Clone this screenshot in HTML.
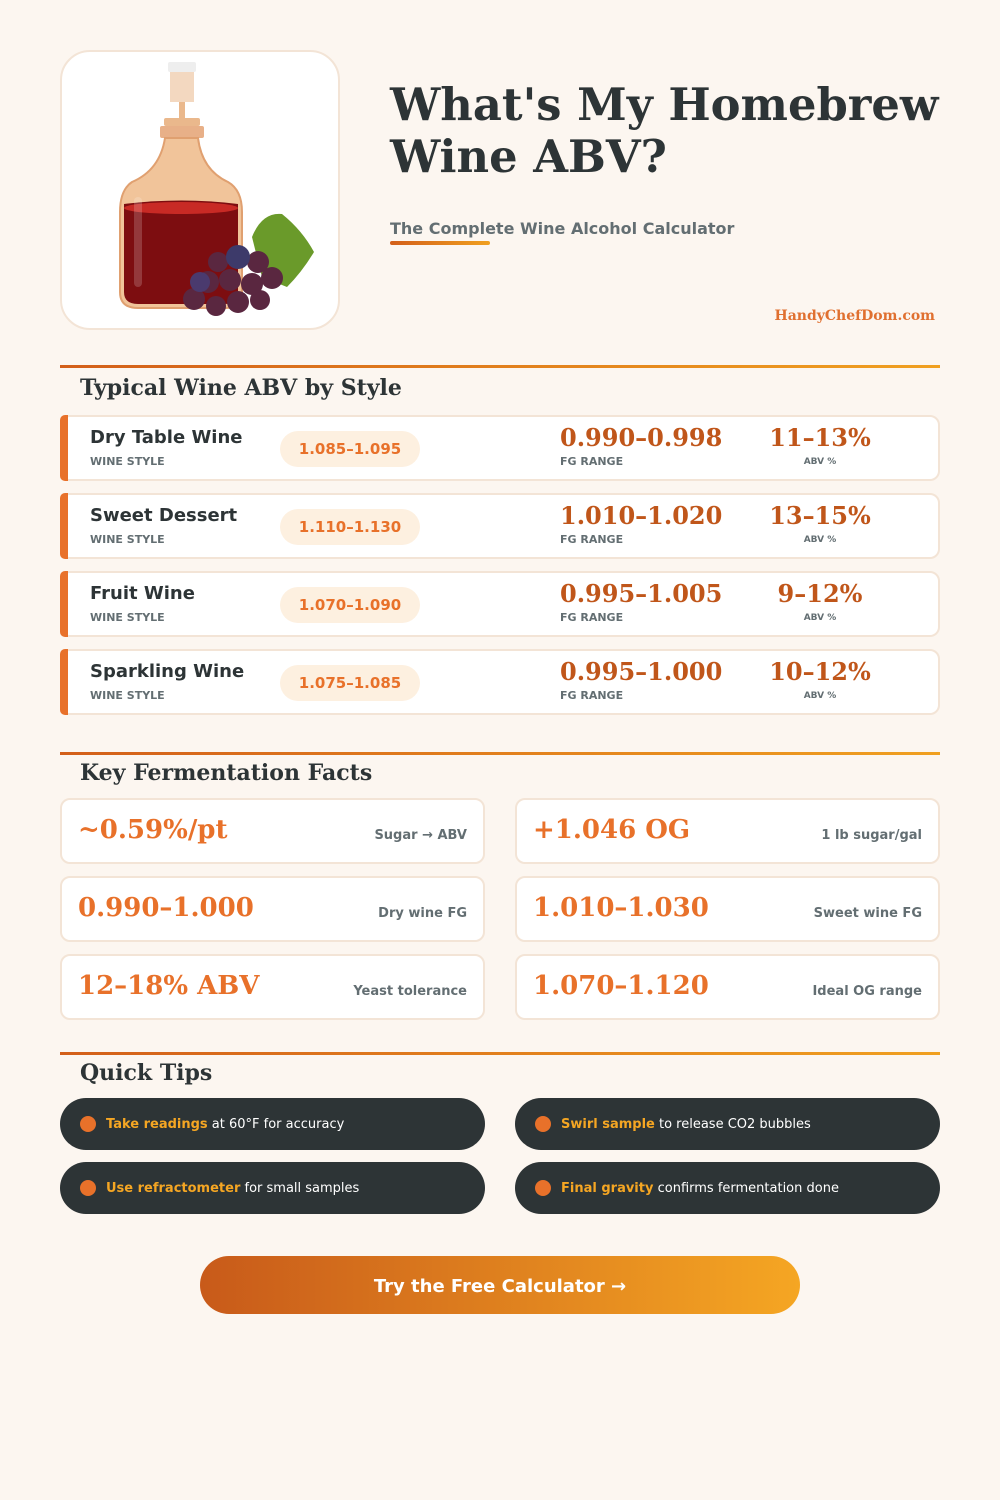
<!DOCTYPE html>
<html><head><meta charset="utf-8"><style>
*{margin:0;padding:0;box-sizing:border-box}
body{width:1000px;height:1500px;background:#fcf6f0;position:relative;font-family:"DejaVu Sans","Liberation Sans",sans-serif;color:#2d3436;overflow:hidden}
.abs{position:absolute}
.serif{font-family:"DejaVu Serif","Liberation Serif",serif;font-weight:bold}
.card{position:absolute;background:#fff;border:2px solid #f3e4d6;border-radius:10px}
.line{position:absolute;left:60px;width:880px;height:3px;background:linear-gradient(90deg,#d35f1a,#f0a020)}
.h2{position:absolute;left:80px;font-size:22px;color:#2d3436}
.accent{position:absolute;left:-2px;top:-2px;bottom:-2px;width:8px;background:#e8712a;border-radius:5px 0 0 5px}
.name{position:absolute;left:28px;top:10px;font-size:18px;font-weight:bold}
.lbl{position:absolute;font-size:11px;font-weight:bold;color:#636e72}
.pill{position:absolute;left:218px;top:14px;width:140px;height:36px;border-radius:18px;background:#fdf0e0;color:#e8712a;font-weight:bold;font-size:15px;text-align:center;line-height:36px}
.fg{position:absolute;left:498px;top:6px;font-size:24px;color:#c0561a}
.abv{position:absolute;left:688px;width:140px;text-align:center;top:6px;font-size:24px;color:#c0561a}
.big{position:absolute;left:16px;top:15px;font-size:26px;color:#e8712a}
.fl{position:absolute;right:16px;top:28px;font-size:13px;font-weight:bold;color:#636e72}
.tip{position:absolute;width:425px;height:52px;border-radius:26px;background:#2d3436;color:#fff;font-size:13px;line-height:54px;padding-left:46px}
.tip:before{content:"";position:absolute;left:20px;top:18px;width:16px;height:16px;border-radius:50%;background:#e8712a}
.tip b{color:#f5a623}
</style></head><body>
<div class="abs" style="left:60px;top:50px;width:280px;height:280px;background:#fff;border:2px solid #f3e4d6;border-radius:30px">
<svg width="276" height="276" viewBox="0 0 276 276">
<rect x="106" y="10" width="28" height="10" rx="2" fill="#eee"/>
<rect x="108" y="20" width="24" height="30" fill="#f3d8c0"/>
<rect x="117" y="50" width="6" height="20" fill="#eab88c"/>
<rect x="102" y="66" width="36" height="8" rx="2" fill="#eab88c"/>
<rect x="98" y="74" width="44" height="12" rx="2" fill="#e8b088"/>
<path d="M103 86 Q98 118 70 130 Q58 138 58 160 L58 240 Q58 256 76 256 L164 256 Q180 256 180 240 L180 160 Q180 138 166 130 Q140 118 136 86 Z" fill="#f1c49a" stroke="#e0a070" stroke-width="2"/>
<path d="M62 152 Q120 145 176 152 L176 240 Q176 252 162 252 L76 252 Q62 252 62 240 Z" fill="#7d0d10"/>
<ellipse cx="119" cy="156" rx="57" ry="6" fill="#c82a25"/>
<rect x="72" y="145" width="8" height="90" rx="4" fill="#fff" opacity=".18"/>
<path d="M190 185 Q200 160 220 162 Q240 178 252 200 Q240 220 225 235 L200 225 Z" fill="#6a9a2a"/>
<g fill="#5a2740">
<circle cx="132" cy="247" r="11"/><circle cx="154" cy="254" r="10"/><circle cx="176" cy="250" r="11"/><circle cx="198" cy="248" r="10"/>
<circle cx="146" cy="230" r="11"/><circle cx="168" cy="228" r="11"/><circle cx="190" cy="232" r="11"/><circle cx="210" cy="226" r="11"/>
<circle cx="156" cy="210" r="10"/><circle cx="196" cy="210" r="11"/>
</g>
<circle cx="176" cy="205" r="12" fill="#3d3a6a"/><circle cx="138" cy="230" r="10" fill="#4a3a6e"/>
</svg></div>
<div class="abs serif" style="left:390px;top:79px;font-size:44.8px;line-height:52px;color:#2d3436">What's My Homebrew<br>Wine ABV?</div>
<div class="abs" style="left:390px;top:219px;font-size:16px;font-weight:bold;color:#636e72">The Complete Wine Alcohol Calculator</div>
<div class="abs" style="left:390px;top:241px;width:100px;height:4px;border-radius:2px;background:linear-gradient(90deg,#d35f1a,#f0a020)"></div>
<div class="abs serif" style="right:65px;top:308px;font-size:14px;color:#e07030">HandyChefDom.com</div>

<div class="line" style="top:365px"></div>
<div class="h2 serif" style="top:375px">Typical Wine ABV by Style</div>

<div class="card" style="left:60px;top:415px;width:880px;height:66px"><div class="accent"></div><div class="name">Dry Table Wine</div><div class="lbl" style="left:28px;top:38px">WINE STYLE</div><div class="pill">1.085–1.095</div><div class="fg serif">0.990–0.998</div><div class="lbl" style="left:498px;top:38px">FG RANGE</div><div class="abv serif">11–13%</div><div class="lbl" style="left:688px;width:140px;text-align:center;top:40px;font-size:9px">ABV %</div></div>
<div class="card" style="left:60px;top:493px;width:880px;height:66px"><div class="accent"></div><div class="name">Sweet Dessert</div><div class="lbl" style="left:28px;top:38px">WINE STYLE</div><div class="pill">1.110–1.130</div><div class="fg serif">1.010–1.020</div><div class="lbl" style="left:498px;top:38px">FG RANGE</div><div class="abv serif">13–15%</div><div class="lbl" style="left:688px;width:140px;text-align:center;top:40px;font-size:9px">ABV %</div></div>
<div class="card" style="left:60px;top:571px;width:880px;height:66px"><div class="accent"></div><div class="name">Fruit Wine</div><div class="lbl" style="left:28px;top:38px">WINE STYLE</div><div class="pill">1.070–1.090</div><div class="fg serif">0.995–1.005</div><div class="lbl" style="left:498px;top:38px">FG RANGE</div><div class="abv serif">9–12%</div><div class="lbl" style="left:688px;width:140px;text-align:center;top:40px;font-size:9px">ABV %</div></div>
<div class="card" style="left:60px;top:649px;width:880px;height:66px"><div class="accent"></div><div class="name">Sparkling Wine</div><div class="lbl" style="left:28px;top:38px">WINE STYLE</div><div class="pill">1.075–1.085</div><div class="fg serif">0.995–1.000</div><div class="lbl" style="left:498px;top:38px">FG RANGE</div><div class="abv serif">10–12%</div><div class="lbl" style="left:688px;width:140px;text-align:center;top:40px;font-size:9px">ABV %</div></div>

<div class="line" style="top:752px"></div>
<div class="h2 serif" style="top:760px">Key Fermentation Facts</div>
<div class="card" style="left:60px;top:798px;width:425px;height:66px"><div class="big serif">~0.59%/pt</div><div class="fl">Sugar → ABV</div></div>
<div class="card" style="left:515px;top:798px;width:425px;height:66px"><div class="big serif">+1.046 OG</div><div class="fl">1 lb sugar/gal</div></div>
<div class="card" style="left:60px;top:876px;width:425px;height:66px"><div class="big serif">0.990–1.000</div><div class="fl">Dry wine FG</div></div>
<div class="card" style="left:515px;top:876px;width:425px;height:66px"><div class="big serif">1.010–1.030</div><div class="fl">Sweet wine FG</div></div>
<div class="card" style="left:60px;top:954px;width:425px;height:66px"><div class="big serif">12–18% ABV</div><div class="fl">Yeast tolerance</div></div>
<div class="card" style="left:515px;top:954px;width:425px;height:66px"><div class="big serif">1.070–1.120</div><div class="fl">Ideal OG range</div></div>

<div class="line" style="top:1052px"></div>
<div class="h2 serif" style="top:1060px">Quick Tips</div>
<div class="tip" style="left:60px;top:1098px"><b>Take readings</b> at 60°F for accuracy</div>
<div class="tip" style="left:515px;top:1098px"><b>Swirl sample</b> to release CO2 bubbles</div>
<div class="tip" style="left:60px;top:1162px"><b>Use refractometer</b> for small samples</div>
<div class="tip" style="left:515px;top:1162px"><b>Final gravity</b> confirms fermentation done</div>

<div class="abs" style="left:200px;top:1256px;width:600px;height:58px;border-radius:29px;background:linear-gradient(90deg,#c85a1a,#f5a623);color:#fff;font-size:18px;font-weight:bold;text-align:center;line-height:62px">Try the Free Calculator →</div>
</body></html>
